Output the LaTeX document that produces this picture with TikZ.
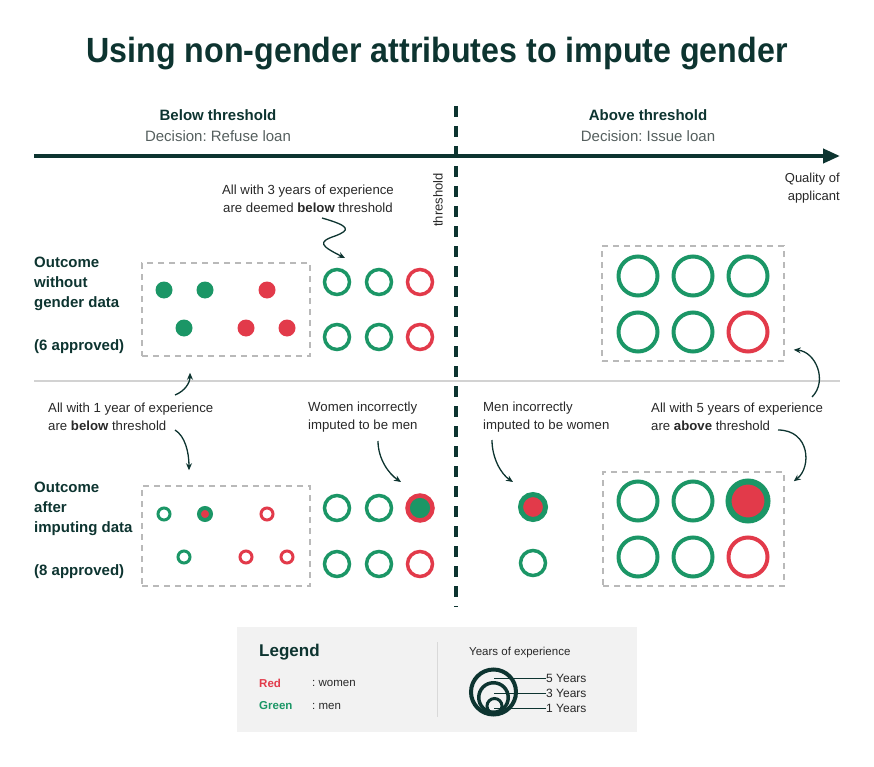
\documentclass[tikz,border=0pt]{standalone}
\usepackage{fontspec}
\setmainfont{Liberation Sans}
\usepackage{graphicx}
\usetikzlibrary{arrows.meta, positioning, calc}
\frenchspacing
\definecolor{inkteal}{RGB}{13,52,48}
\definecolor{mengreen}{RGB}{27,150,102}
\definecolor{womenred}{RGB}{226,58,74}
\definecolor{notegray}{RGB}{40,40,40}
\definecolor{decgray}{RGB}{85,95,94}
\definecolor{legendbg}{RGB}{242,242,242}
\tikzset{
    % Applicants
    dot/.style={circle, fill=#1, minimum size=17pt, inner sep=0pt},
    smallring/.style={circle, draw=#1, line width=3pt, minimum size=12pt, inner sep=0pt},
    ring/.style={circle, draw=#1, line width=3.5pt, minimum size=25pt, inner sep=0pt},
    bigring/.style={circle, draw=#1, line width=4pt, minimum size=39pt, inner sep=0pt},
    dashbox/.style={rectangle, draw=gray!55, line width=1.5pt, dash pattern=on 6pt off 5pt, inner sep=0pt},
    % Labels
    headlbl/.style={font=\fontsize{15}{18}\selectfont\bfseries, text=inkteal},
    declbl/.style={font=\fontsize{15}{18}\selectfont, text=decgray},
    rowlbl/.style={font=\fontsize{15}{20}\selectfont\bfseries, text=inkteal, align=left,
                anchor=north west, inner sep=0pt},
    notelbl/.style={font=\fontsize{13.2}{18}\selectfont, text=notegray, align=left,
                anchor=west, inner sep=0pt},
    notearrow/.style={-{Stealth[length=7pt, width=6pt]}, line width=1.3pt, inkteal},
    % Legend
    legtxt/.style={font=\fontsize{11.5}{14}\selectfont, text=notegray, anchor=west, inner sep=0pt},
    legline/.style={line width=0.7pt, inkteal},
}

\begin{document}
\begin{tikzpicture}[x=1pt, y=-1pt]
\useasboundingbox (0,0) rectangle (874,767);

% Title
\node[font=\fontsize{35}{40}\selectfont\bfseries, text=inkteal] (title) at (437,54)
    {\scalebox{0.92}[1]{Using non-gender attributes to impute gender}};

% Decisions
\node[headlbl] (belowhd) at (218,115) {Below threshold};
\node[declbl] (belowdec) at (218,136) {Decision: Refuse loan};
\node[headlbl] (abovehd) at (648,115) {Above threshold};
\node[declbl] (abovedec) at (648,136) {Decision: Issue loan};

% Quality axis
\coordinate (axisL) at (34,156);
\coordinate (axisR) at (840,156);
\draw[inkteal, line width=4pt, -{Triangle[length=17pt, width=14pt]}] (axisL) -- (axisR);
\node[font=\fontsize{13}{18}\selectfont, text=notegray, align=right, anchor=east, inner sep=0pt]
    (quality) at (840,188) {Quality of\\applicant};

% Separator between outcomes
\draw[gray!35, line width=2pt] (34,381) -- (840,381);

% Threshold
\coordinate (thrTop) at (456,106);
\coordinate (thrBot) at (456,607);
\draw[inkteal, line width=4pt, dash pattern=on 11pt off 9pt] (thrTop) -- (thrBot);
\node[font=\fontsize{13}{15}\selectfont, text=notegray, rotate=90] (thrlbl) at (438,200) {threshold};

% Row labels
\node[rowlbl] (rowtop) at (34,257) {Outcome\\without\\gender data\\[23pt](6 approved)};
\node[rowlbl] (rowbot) at (34,482) {Outcome\\after\\imputing data\\[23pt](8 approved)};

% Without gender data: 1 year
\node[dashbox, minimum width=168pt, minimum height=93pt] (boxA) at (226,309.5) {};
\node[dot=mengreen] (a1) at (164,290) {};
\node[dot=mengreen] (a2) at (205,290) {};
\node[dot=womenred] (a3) at (267,290) {};
\node[dot=mengreen] (a4) at (184,328) {};
\node[dot=womenred] (a5) at (246,328) {};
\node[dot=womenred] (a6) at (287,328) {};

% Without gender data: 3 years
\node[ring=mengreen] (b1) at (337,282) {};
\node[ring=mengreen] (b2) at (379,282) {};
\node[ring=womenred] (b3) at (420,282) {};
\node[ring=mengreen] (b4) at (337,337) {};
\node[ring=mengreen] (b5) at (379,337) {};
\node[ring=womenred] (b6) at (420,337) {};

% Without gender data: 5 years
\node[dashbox, minimum width=182pt, minimum height=115pt] (boxC) at (693,303.5) {};
\node[bigring=mengreen] (e1) at (638,276) {};
\node[bigring=mengreen] (e2) at (693,276) {};
\node[bigring=mengreen] (e3) at (748,276) {};
\node[bigring=mengreen] (e4) at (638,332) {};
\node[bigring=mengreen] (e5) at (693,332) {};
\node[bigring=womenred] (e6) at (748,332) {};

% After imputing: 1 year
\node[dashbox, minimum width=168pt, minimum height=100pt] (boxB) at (226,536) {};
\node[smallring=mengreen] (f1) at (164,514) {};
\node[smallring=mengreen, line width=4pt, fill=womenred] (f2) at (205,514) {};
\node[smallring=womenred] (f3) at (267,514) {};
\node[smallring=mengreen] (f4) at (184,557) {};
\node[smallring=womenred] (f5) at (246,557) {};
\node[smallring=womenred] (f6) at (287,557) {};

% After imputing: 3 years
\node[ring=mengreen] (c1) at (337,508) {};
\node[ring=mengreen] (c2) at (379,508) {};
\node[ring=womenred, line width=4.5pt, fill=mengreen] (c3) at (420,508) {};
\node[ring=mengreen] (c4) at (337,564) {};
\node[ring=mengreen] (c5) at (379,564) {};
\node[ring=womenred] (c6) at (420,564) {};

% After imputing: moved above threshold
\node[ring=mengreen, line width=5pt, fill=womenred] (m1) at (533,507) {};
\node[ring=mengreen] (m2) at (533,563) {};

% After imputing: 5 years
\node[dashbox, minimum width=181pt, minimum height=114pt] (boxD) at (693.5,529) {};
\node[bigring=mengreen] (g1) at (638,501) {};
\node[bigring=mengreen] (g2) at (693,501) {};
\node[bigring=mengreen, line width=6pt, fill=womenred] (g3) at (748,501) {};
\node[bigring=mengreen] (g4) at (638,557) {};
\node[bigring=mengreen] (g5) at (693,557) {};
\node[bigring=womenred] (g6) at (748,557) {};

% Annotations
\node[notelbl, align=center, anchor=center] (note3) at (308,199)
    {All with 3 years of experience\\are deemed \textbf{below} threshold};
\node[notelbl] (note1) at (48,417) {All with 1 year of experience\\are \textbf{below} threshold};
\node[notelbl] (noteW) at (308,417) {Women incorrectly\\imputed to be men};
\node[notelbl] (noteM) at (483,417) {Men incorrectly\\imputed to be women};
\node[notelbl] (note5) at (651,417) {All with 5 years of experience\\are \textbf{above} threshold};

\draw[notearrow] ([shift={(14,19)}]note3.center) .. controls +(28,8) and +(16,-6) .. ++(13,18)
    .. controls +(-18,6) and +(-24,-12) .. ([shift={(8,-24)}]b1.center);
\draw[notearrow] ([shift={(127,-22)}]note1.west) .. controls +(10,-4) and +(0,10) .. ([shift={(-36,16)}]boxA.south);
\draw[notearrow] ([shift={(127,13)}]note1.west) .. controls +(10,6) and +(0,-18) .. ([shift={(-37,-15)}]boxB.north);
\draw[notearrow] ([shift={(70,24)}]noteW.west) .. controls +(0,18) and +(-12,-8) .. ([shift={(-19,-26)}]c3.center);
\draw[notearrow] ([shift={(9,23)}]noteM.west) .. controls +(0,18) and +(-12,-8) .. ([shift={(-20,-25)}]m1.center);
\draw[notearrow] ([shift={(127,13)}]note5.west) .. controls +(32,0) and +(18,-14) .. ([shift={(9,10)}]boxD.north east);
\draw[notearrow] ([shift={(161,-20)}]note5.west) .. controls +(16,-16) and +(22,2) .. ([shift={(9,-12)}]boxC.south east);

% Legend
\node[rectangle, fill=legendbg, minimum width=400pt, minimum height=105pt, inner sep=0pt] (legend) at (437,679.5) {};
\node[font=\fontsize{17}{20}\selectfont\bfseries, text=inkteal, anchor=west, inner sep=0pt] (legtitle) at (259,652) {Legend};
\node[legtxt, font=\fontsize{11.5}{14}\selectfont\bfseries, text=womenred] (legred) at (259,683) {Red};
\node[legtxt] (legwomen) at (312,683) {: women};
\node[legtxt, font=\fontsize{11.5}{14}\selectfont\bfseries, text=mengreen] (leggreen) at (259,706) {Green};
\node[legtxt] (legmen) at (312,706) {: men};
\draw[gray!30, line width=1pt] (437,642) -- (437,717);

\node[legtxt] (legyears) at (469,653) {Years of experience};
\node[ring=inkteal, line width=4pt, minimum size=45pt] (yr5ring) at (493.5,692) {};
\node[ring=inkteal, minimum size=29.5pt] (yr3ring) at (493.5,697.5) {};
\node[ring=inkteal, line width=3pt, minimum size=15pt] (yr1ring) at (494.5,706) {};
\node[legtxt, font=\fontsize{12}{14}\selectfont] (yr5) at (546,678) {5 Years};
\node[legtxt, font=\fontsize{12}{14}\selectfont] (yr3) at (546,693) {3 Years};
\node[legtxt, font=\fontsize{12}{14}\selectfont] (yr1) at (546,708) {1 Years};
\draw[legline] (yr5.west) -- (yr5.west -| yr5ring.center);
\draw[legline] (yr3.west) -- (yr3.west -| yr5ring.center);
\draw[legline] (yr1.west) -- (yr1.west -| yr5ring.center);

\end{tikzpicture}
\end{document}
